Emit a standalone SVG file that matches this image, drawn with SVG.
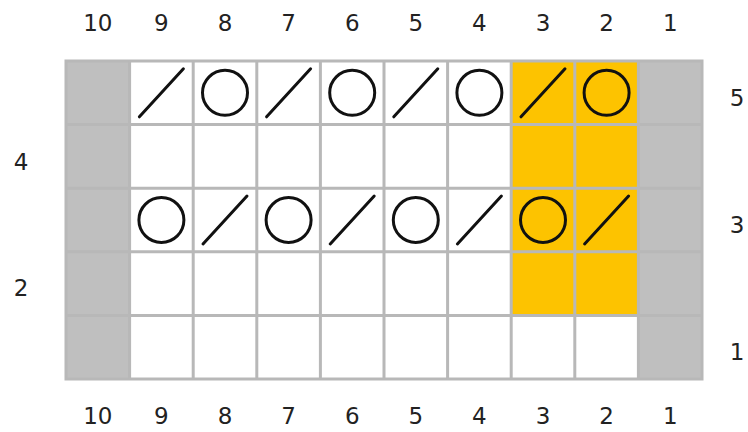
<svg xmlns="http://www.w3.org/2000/svg" xmlns:xlink="http://www.w3.org/1999/xlink" width="748" height="432" viewBox="0 0 748 432">
<style>
.lbl{font-family:"DejaVu Sans","Liberation Sans",sans-serif;font-size:23px;fill:#222;text-anchor:middle}
.w{fill:#fff}
.g{fill:#bfbfbf}
.y{fill:#fdc300}
.sym{fill:none;stroke:#111;stroke-width:3;stroke-linecap:round}
.grid{stroke:#b8b8b8;stroke-width:3;fill:none}
</style>
<defs>
<path id="k2tog" class="sym" d="M-22,24 L22,-24"/>
<circle id="yo" class="sym" r="22.5"/>
</defs>
<rect width="748" height="432" fill="#fff"/>
<g id="fills">
<rect class="w" x="66" y="61" width="636" height="318"/>
<rect class="g" x="66" y="61" width="63.6" height="318"/>
<rect class="g" x="638.4" y="61" width="63.6" height="318"/>
<rect class="y" x="511.2" y="61" width="127.2" height="254.4"/>
</g>
<g id="grid" class="grid">
<rect x="66" y="61" width="636" height="318"/>
<path d="M129.6,61V379M193.2,61V379M256.8,61V379M320.4,61V379M384,61V379M447.6,61V379M511.2,61V379M574.8,61V379M638.4,61V379"/>
<path d="M66,124.6H702M66,188.2H702M66,251.8H702M66,315.4H702"/>
</g>
<g id="row5">
<use xlink:href="#k2tog" x="161.4" y="92.8"/>
<use xlink:href="#yo" x="225" y="92.8"/>
<use xlink:href="#k2tog" x="288.6" y="92.8"/>
<use xlink:href="#yo" x="352.2" y="92.8"/>
<use xlink:href="#k2tog" x="415.8" y="92.8"/>
<use xlink:href="#yo" x="479.4" y="92.8"/>
<use xlink:href="#k2tog" x="543" y="92.8"/>
<use xlink:href="#yo" x="606.6" y="92.8"/>
</g>
<g id="row3">
<use xlink:href="#yo" x="161.4" y="220"/>
<use xlink:href="#k2tog" x="225" y="220"/>
<use xlink:href="#yo" x="288.6" y="220"/>
<use xlink:href="#k2tog" x="352.2" y="220"/>
<use xlink:href="#yo" x="415.8" y="220"/>
<use xlink:href="#k2tog" x="479.4" y="220"/>
<use xlink:href="#yo" x="543" y="220"/>
<use xlink:href="#k2tog" x="606.6" y="220"/>
</g>
<g id="top-labels" class="lbl">
<text x="97.8" y="31">10</text><text x="161.4" y="31">9</text><text x="225" y="31">8</text><text x="288.6" y="31">7</text><text x="352.2" y="31">6</text><text x="415.8" y="31">5</text><text x="479.4" y="31">4</text><text x="543" y="31">3</text><text x="606.6" y="31">2</text><text x="670.2" y="31">1</text>
</g>
<g id="bottom-labels" class="lbl">
<text x="97.8" y="424">10</text><text x="161.4" y="424">9</text><text x="225" y="424">8</text><text x="288.6" y="424">7</text><text x="352.2" y="424">6</text><text x="415.8" y="424">5</text><text x="479.4" y="424">4</text><text x="543" y="424">3</text><text x="606.6" y="424">2</text><text x="670.2" y="424">1</text>
</g>
<g id="row-labels" class="lbl">
<text x="737" y="106">5</text>
<text x="21" y="170">4</text>
<text x="737" y="233">3</text>
<text x="21" y="296">2</text>
<text x="737" y="360">1</text>
</g>
</svg>
